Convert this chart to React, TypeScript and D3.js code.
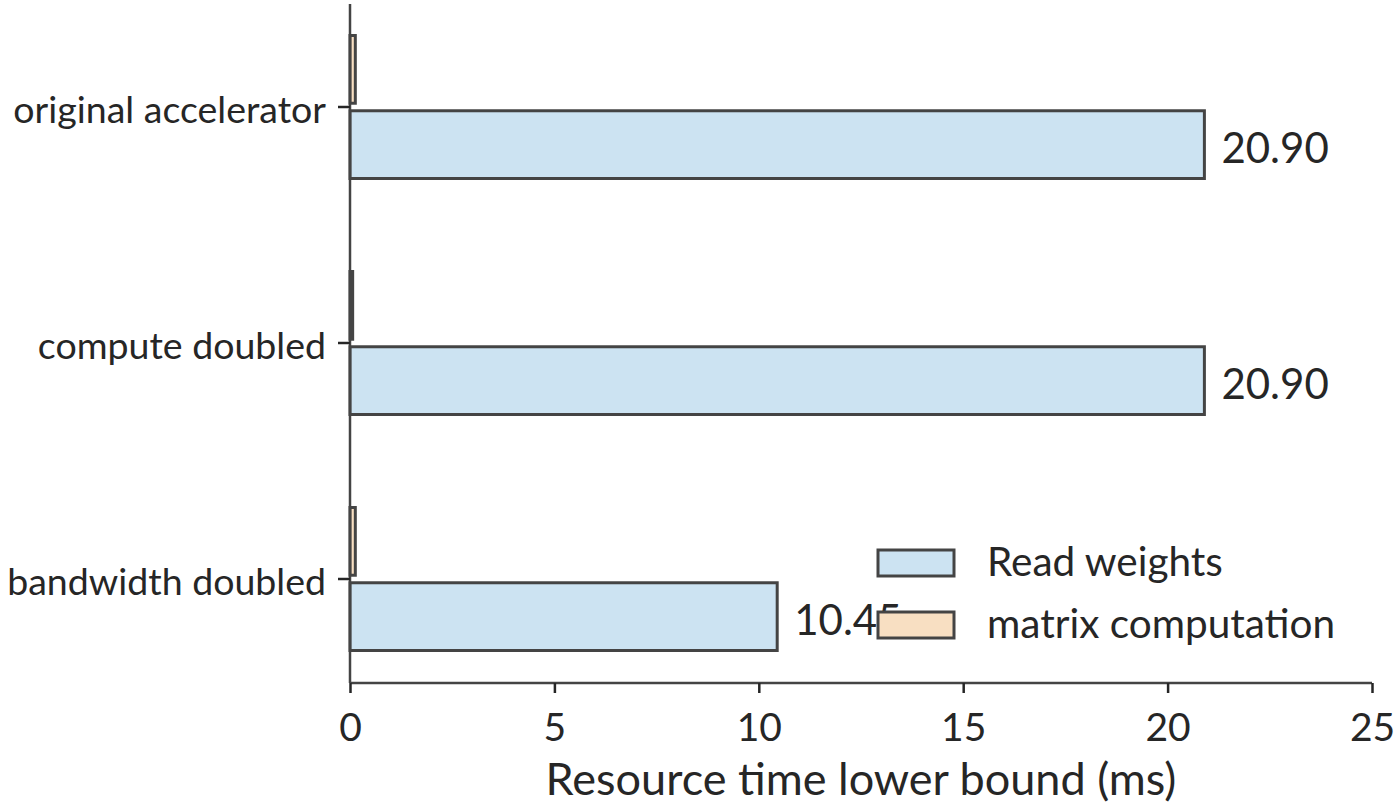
import * as d3 from "d3";
import React, { useEffect, useRef } from "react";

const categories = ["original accelerator", "compute doubled", "bandwidth doubled"];
const seriesNames = ["matrix computation", "Read weights"];
const readWeights = [20.9, 20.9, 10.45];
const matrixComputation = [0.13, 0.065, 0.13];
const xTicks = [0, 5, 10, 15, 20, 25];
const legendOrder = ["Read weights", "matrix computation"];

const FONT = "Lato, 'Source Sans Pro', sans-serif";
const fills: Record<string, string> = {
  "Read weights": "#cce3f2",
  "matrix computation": "#f8dfc2",
};

export default function App() {
  const ref = useRef<SVGSVGElement>(null);

  useEffect(() => {
    const svg = d3.select(ref.current);
    svg.selectAll("*").remove();

    const rows = categories.map((c, i) => ({
      cat: c,
      values: {
        "matrix computation": matrixComputation[i],
        "Read weights": readWeights[i],
      } as Record<string, number>,
    }));

    const x = d3.scaleLinear().domain([0, 25]).range([350, 1372]);
    // category band: centers at 107, 343, 579
    const y = d3.scaleBand().domain(categories).range([-11, 697]);
    const sub = d3
      .scaleBand()
      .domain(seriesNames)
      .range([-71.5, 71.5])
      .paddingInner(0.1);

    const g = svg.append("g");

    // bars
    rows.forEach((r) => {
      const cy = (y(r.cat) as number) + y.bandwidth() / 2;
      seriesNames.forEach((s) => {
        g.append("rect")
          .attr("x", x(0))
          .attr("y", cy + (sub(s) as number))
          .attr("width", x(r.values[s]) - x(0))
          .attr("height", sub.bandwidth())
          .attr("fill", fills[s])
          .attr("stroke", "#444")
          .attr("stroke-width", 3);
      });
      // value label for read weights
      const ry = cy + (sub("Read weights") as number) + sub.bandwidth() / 2;
      g.append("text")
        .attr("x", x(r.values["Read weights"]) + 17)
        .attr("y", ry)
        .attr("dy", "0.43em")
        .attr("font-size", 42)
        .attr("font-family", FONT)
        .attr("fill", "#262626")
        .text(d3.format(".2f")(r.values["Read weights"]));
    });

    // x axis
    const xAxis = d3
      .axisBottom(x)
      .tickValues(xTicks)
      .tickSize(10)
      .tickPadding(20)
      .tickFormat(d3.format("d") as any);
    const ax = g.append("g").attr("transform", "translate(0,683)").call(xAxis);
    ax.select(".domain").attr("stroke", "#444").attr("stroke-width", 2.5)
      .attr("d", `M${x(0)},0H${x(25)}`);
    ax.selectAll(".tick line").attr("stroke", "#262626").attr("stroke-width", 2.5);
    ax.selectAll(".tick text")
      .attr("font-size", 39)
      .attr("font-family", FONT)
      .attr("fill", "#262626");

    // y axis
    const yAxis = d3
      .axisLeft(y)
      .tickSize(12)
      .tickPadding(12);
    const ay = g.append("g").attr("transform", `translate(${x(0)},0)`).call(yAxis);
    ay.select(".domain").attr("stroke", "#444").attr("stroke-width", 2.5)
      .attr("d", "M0,4V683");
    ay.selectAll(".tick line").attr("stroke", "#262626").attr("stroke-width", 2.5);
    ay.selectAll(".tick text")
      .attr("font-size", 37.5)
      .attr("dy", "0.43em")
      .attr("font-family", FONT)
      .attr("fill", "#262626");

    // axis title
    g.append("text")
      .attr("x", (x(0) + x(25)) / 2)
      .attr("y", 795)
      .attr("text-anchor", "middle")
      .attr("font-size", 45)
      .attr("font-family", FONT)
      .attr("fill", "#262626")
      .text("Resource time lower bound (ms)");

    // legend
    const lg = g.append("g");
    legendOrder.forEach((s, i) => {
      const cy = 563 + i * 62;
      lg.append("rect")
        .attr("x", 878)
        .attr("y", cy - 13)
        .attr("width", 76)
        .attr("height", 26)
        .attr("fill", fills[s])
        .attr("stroke", "#444")
        .attr("stroke-width", 3);
      lg.append("text")
        .attr("x", 987)
        .attr("y", cy)
        .attr("dy", "0.33em")
        .attr("font-size", 40.5)
        .attr("font-family", FONT)
        .attr("fill", "#262626")
        .text(s);
    });
  }, []);

  return (
    <svg
      ref={ref}
      width={1400}
      height={809}
      style={{ position: "absolute", left: 0, top: 0, background: "#fff" }}
    />
  );
}
